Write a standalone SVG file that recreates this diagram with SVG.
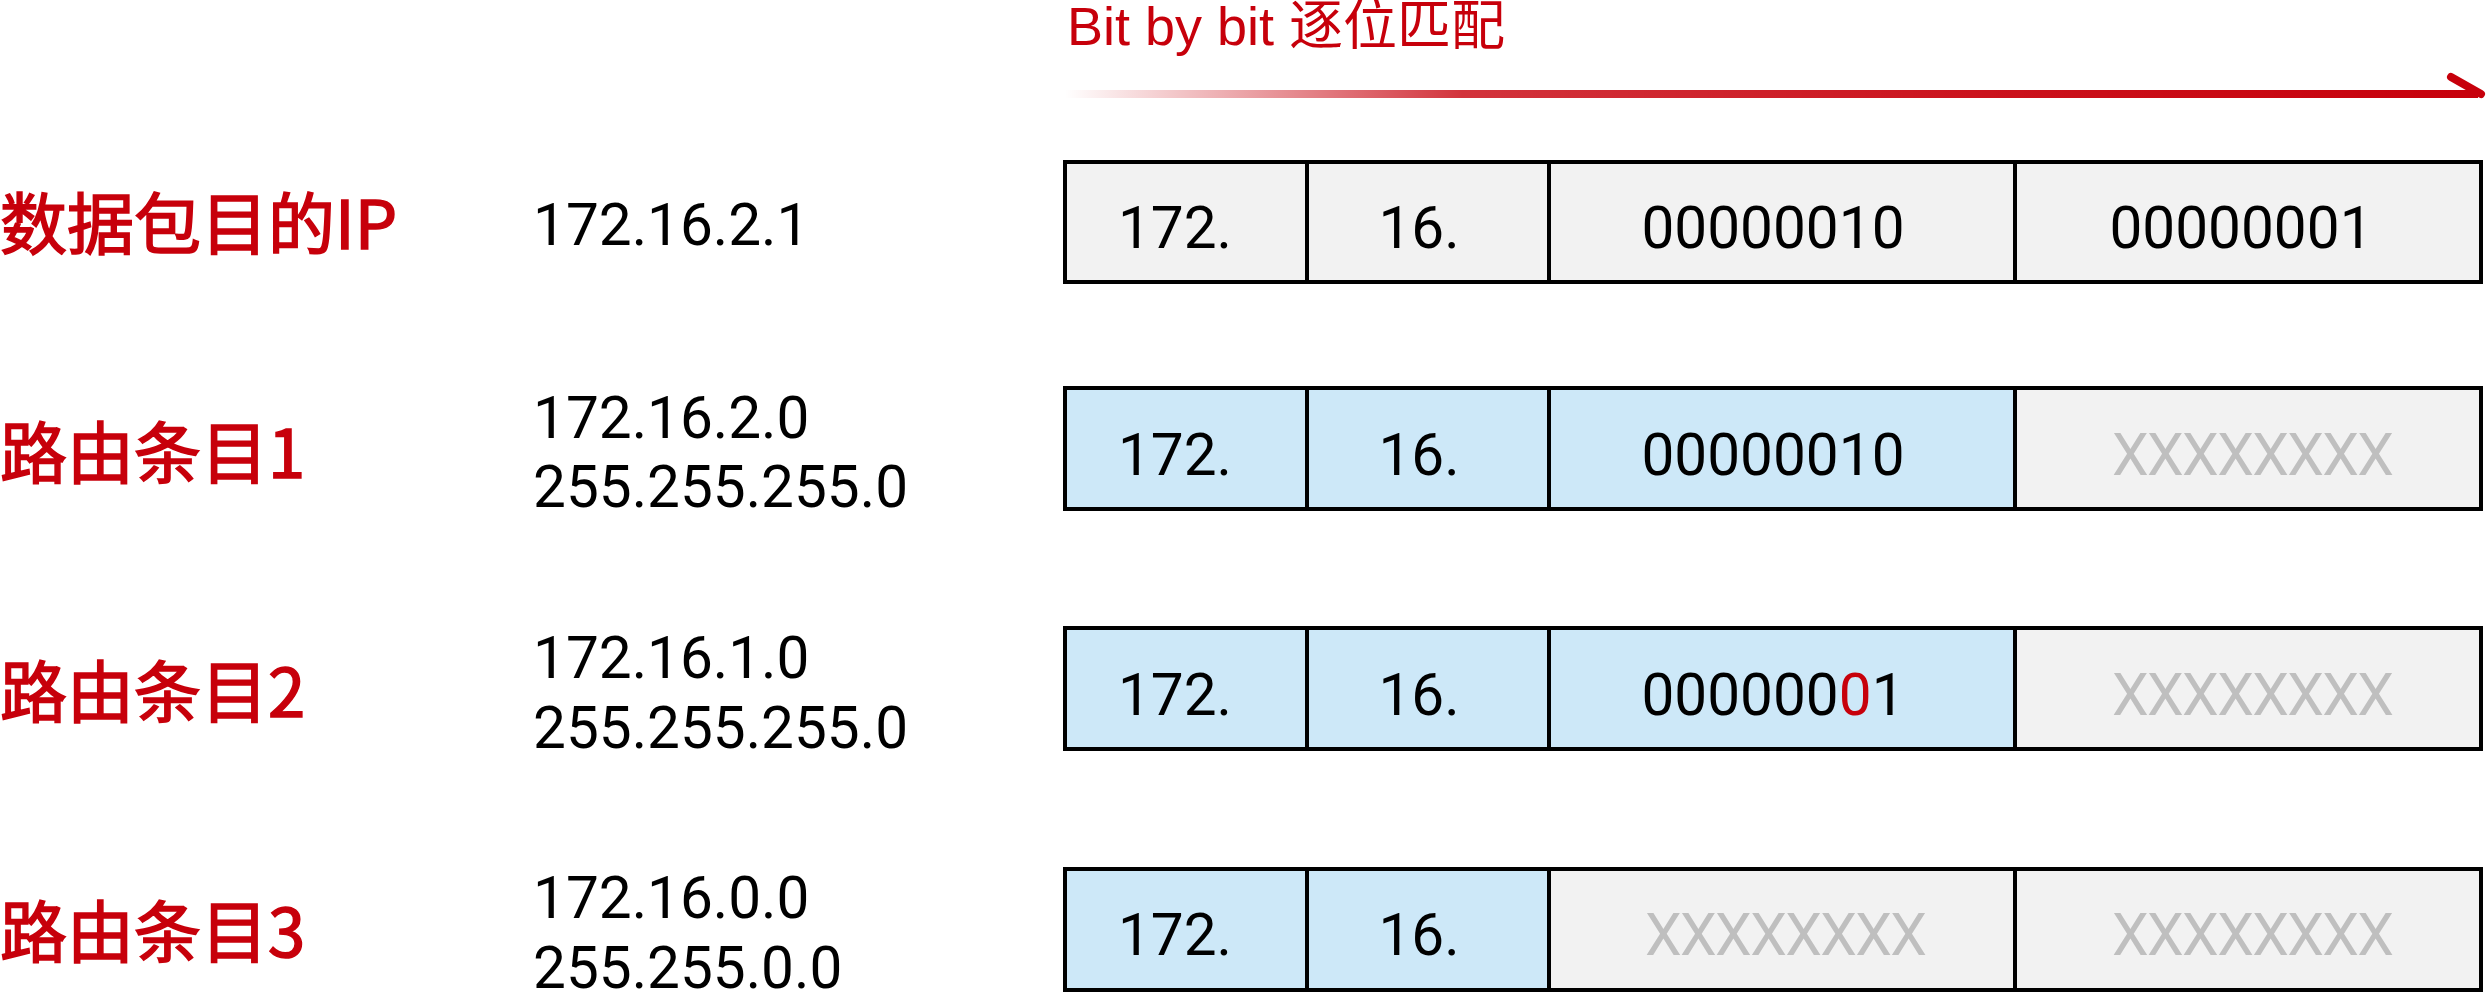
<svg xmlns="http://www.w3.org/2000/svg" width="2486" height="1004" viewBox="0 0 2486 1004">
  <defs>
    <linearGradient id="arrowGrad" gradientUnits="userSpaceOnUse" x1="1065" y1="0" x2="2482" y2="0">
      <stop offset="0" stop-color="#C7000B" stop-opacity="0"/>
      <stop offset="0.28" stop-color="#C7000B" stop-opacity="0.8"/>
      <stop offset="0.65" stop-color="#C7000B" stop-opacity="0.93"/>
      <stop offset="1" stop-color="#C7000B" stop-opacity="1"/>
    </linearGradient>
  </defs>
  <style>
    .label { font-family: "Noto Sans CJK SC", "Noto Sans", sans-serif; font-size: 67px; font-weight: normal; fill: #C7000B; stroke: #C7000B; stroke-width: 1.6px; }
    .addr { font-family: Roboto, "Noto Sans", sans-serif; font-size: 58.5px; fill: #000000; }
    .cell { stroke: #000000; stroke-width: 4; }
    .gray { fill: #F2F2F2; }
    .blue { fill: #CDE8F8; }
    .ct { font-family: Roboto, "Noto Sans", sans-serif; font-size: 58.5px; fill: #000000; text-anchor: middle; }
    .xx { font-family: Roboto, "Noto Sans", sans-serif; font-size: 58.5px; fill: #BFBFBF; text-anchor: middle; }
    .title { font-family: "Liberation Sans", "Noto Sans CJK SC", sans-serif; font-size: 54px; fill: #C7000B; }
  </style>
  <rect x="0" y="0" width="2486" height="1004" fill="#FFFFFF"/>

  <g id="title">
    <text class="title" x="1067" y="45">Bit by bit 逐位匹配</text>
  </g>

  <g id="connectors">
    <line x1="1065" y1="94" x2="2478" y2="94" stroke="url(#arrowGrad)" stroke-width="8"/>
    <path d="M2451,77 L2481,94" fill="none" stroke="#C7000B" stroke-width="8" stroke-linecap="round"/>
  </g>

  <g id="row-ip">
    <text class="label" x="0" y="249">数据包目的IP</text>
    <text class="addr" x="533" y="245">172.16.2.1</text>
    <rect class="cell gray" x="1065" y="162" width="242" height="120"/>
    <rect class="cell gray" x="1307" y="162" width="242" height="120"/>
    <rect class="cell gray" x="1549" y="162" width="466" height="120"/>
    <rect class="cell gray" x="2015" y="162" width="466" height="120"/>
    <text class="ct" x="1175" y="248">172.</text>
    <text class="ct" x="1419" y="248">16.</text>
    <text class="ct" x="1773" y="248">00000010</text>
    <text class="ct" x="2241" y="248">00000001</text>
  </g>

  <g id="row-route1">
    <text class="label" x="0" y="478">路由条目1</text>
    <text class="addr"><tspan x="533" y="438">172.16.2.0</tspan><tspan x="533" y="507">255.255.255.0</tspan></text>
    <rect class="cell blue" x="1065" y="388" width="242" height="121"/>
    <rect class="cell blue" x="1307" y="388" width="242" height="121"/>
    <rect class="cell blue" x="1549" y="388" width="466" height="121"/>
    <rect class="cell gray" x="2015" y="388" width="466" height="121"/>
    <text class="ct" x="1175" y="475">172.</text>
    <text class="ct" x="1419" y="475">16.</text>
    <text class="ct" x="1773" y="475">00000010</text>
    <text class="xx" x="2253" y="475" textLength="282" lengthAdjust="spacing">XXXXXXXX</text>
  </g>

  <g id="row-route2">
    <text class="label" x="0" y="717">路由条目2</text>
    <text class="addr"><tspan x="533" y="678">172.16.1.0</tspan><tspan x="533" y="748">255.255.255.0</tspan></text>
    <rect class="cell blue" x="1065" y="628" width="242" height="121"/>
    <rect class="cell blue" x="1307" y="628" width="242" height="121"/>
    <rect class="cell blue" x="1549" y="628" width="466" height="121"/>
    <rect class="cell gray" x="2015" y="628" width="466" height="121"/>
    <text class="ct" x="1175" y="715">172.</text>
    <text class="ct" x="1419" y="715">16.</text>
    <text class="ct" x="1773" y="715">000000<tspan fill="#C7000B">0</tspan>1</text>
    <text class="xx" x="2253" y="715" textLength="282" lengthAdjust="spacing">XXXXXXXX</text>
  </g>

  <g id="row-route3">
    <text class="label" x="0" y="957">路由条目3</text>
    <text class="addr"><tspan x="533" y="918">172.16.0.0</tspan><tspan x="533" y="988">255.255.0.0</tspan></text>
    <rect class="cell blue" x="1065" y="869" width="242" height="121"/>
    <rect class="cell blue" x="1307" y="869" width="242" height="121"/>
    <rect class="cell gray" x="1549" y="869" width="466" height="121"/>
    <rect class="cell gray" x="2015" y="869" width="466" height="121"/>
    <text class="ct" x="1175" y="955">172.</text>
    <text class="ct" x="1419" y="955">16.</text>
    <text class="xx" x="1786" y="955" textLength="282" lengthAdjust="spacing">XXXXXXXX</text>
    <text class="xx" x="2253" y="955" textLength="282" lengthAdjust="spacing">XXXXXXXX</text>
  </g>
</svg>
